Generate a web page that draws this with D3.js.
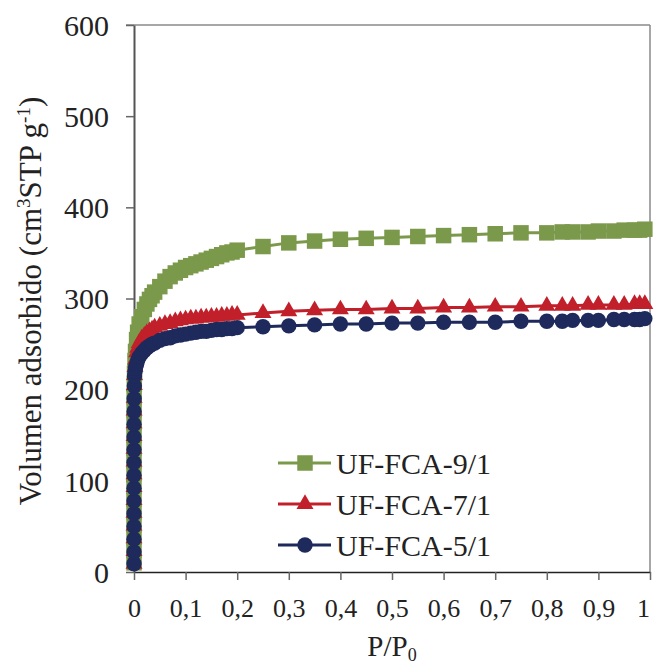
<!DOCTYPE html>
<html><head><meta charset="utf-8">
<script src="https://cdn.jsdelivr.net/npm/d3@7"></script>
<style>
html,body{margin:0;padding:0;background:#fff;}
svg{display:block;}
svg text{font-family:"Liberation Serif","Times New Roman",Tinos,serif !important;fill:#222;}
</style></head>
<body>
<script>
// Shared relative pressures (P/P0)
const pressure = [0.0000005, 0.000001, 0.000002, 0.000003, 0.000005, 0.000008, 0.00001, 0.00002,
  0.00003, 0.00005, 0.00008, 0.0001, 0.0002, 0.0003, 0.0006, 0.001,
  0.002, 0.003, 0.005, 0.007, 0.01, 0.015, 0.02, 0.025, 0.03, 0.035, 0.04, 0.05,
  0.06, 0.07, 0.08, 0.09, 0.10, 0.11, 0.12, 0.13, 0.14, 0.15,
  0.16, 0.17, 0.18, 0.19, 0.20,
  0.25, 0.30, 0.35, 0.40, 0.45, 0.50, 0.55, 0.60, 0.65, 0.70,
  0.75, 0.80, 0.83, 0.85, 0.88, 0.90, 0.93, 0.95, 0.97, 0.98, 0.99];
const seriesNames = ["UF-FCA-9/1", "UF-FCA-7/1", "UF-FCA-5/1"];
const vol91 = [10, 24, 38, 52, 66, 80, 94, 108, 122, 136, 150, 164, 178, 192, 206, 218,
  232, 242, 255, 263, 272, 280, 288, 294, 299, 303, 307, 313,
  319, 324, 328, 331, 334, 336, 338, 340, 342, 344,
  346, 348, 350, 351, 353,
  357, 361, 363, 365, 366, 367, 368, 369, 370, 371,
  372, 372, 373, 373, 373, 374, 374, 375, 375, 375, 376];
const vol71 = [9, 23, 37, 51, 65, 79, 93, 107, 121, 135, 149, 163, 177, 191, 205, 216,
  225, 233, 241, 246, 251, 256, 259, 262, 264, 266, 268, 270,
  272, 273, 275, 276, 277, 278, 278, 279, 279, 280,
  280, 281, 281, 282, 282,
  284, 286, 287, 288, 288, 289, 289, 290, 290, 291,
  291, 292, 292, 292, 293, 293, 293, 293, 294, 294, 294];
const vol51 = [9, 22, 36, 50, 64, 78, 92, 106, 120, 134, 148, 162, 176, 190, 204, 215,
  220, 224, 228, 232, 236, 240, 243, 246, 248, 250, 251, 254,
  256, 257, 259, 260, 261, 262, 263, 264, 264, 265,
  266, 266, 267, 267, 268,
  269, 270, 271, 272, 272, 273, 273, 274, 274, 274,
  275, 275, 275, 276, 276, 276, 277, 277, 277, 277, 278];
const xTicks = [0, 0.1, 0.2, 0.3, 0.4, 0.5, 0.6, 0.7, 0.8, 0.9, 1];
const yTicks = [0, 100, 200, 300, 400, 500, 600];

const W = 655, H = 668;
const svg = d3.select("body").append("svg").attr("width", W).attr("height", H);

const x = d3.scaleLinear().domain([0, 1]).range([134, 650]);
const y = d3.scaleLinear().domain([0, 600]).range([572, 25]);

// frame (top & right, gray)
svg.append("line").attr("x1", 126).attr("x2", 650).attr("y1", y(600)).attr("y2", y(600))
  .attr("stroke", "#8a8a8a").attr("stroke-width", 1.5);
svg.append("line").attr("x1", 650).attr("x2", 650).attr("y1", y(600)).attr("y2", 572)
  .attr("stroke", "#8a8a8a").attr("stroke-width", 1.5);

const fmt = d => d === 0 ? "0" : d === 1 ? "1" : String(d).replace(".", ",");

// x axis
const gx = svg.append("g").attr("transform", `translate(0,572)`)
  .call(d3.axisBottom(x).tickValues(xTicks).tickSize(8).tickSizeOuter(0).tickFormat(fmt));
gx.select(".domain").attr("stroke", "#222").attr("stroke-width", 1.5);
gx.selectAll(".tick line").attr("stroke", "#666").attr("stroke-width", 1.5);
gx.selectAll(".tick text").attr("font-size", 26).attr("dy", 0).attr("y", 45).attr("fill", "#222")
  .attr("x", d => d === 1 ? -7 : 0);

// y axis
const gy = svg.append("g").attr("transform", `translate(134,0)`)
  .call(d3.axisLeft(y).tickValues(yTicks).tickSize(8).tickSizeOuter(0));
gy.select(".domain").attr("stroke", "#555").attr("stroke-width", 2);
gy.selectAll(".tick line").attr("stroke", "#666").attr("stroke-width", 1.5);
gy.selectAll(".tick text").attr("font-size", 30).attr("x", -25).attr("dy", "0.34em").attr("fill", "#222");

// axis titles
const xt = svg.append("text").attr("x", 392).attr("y", 656).attr("text-anchor", "middle")
  .attr("font-size", 29);
xt.append("tspan").text("P/P");
xt.append("tspan").attr("font-size", 18).attr("dy", 5).text("0");

const yt = svg.append("text").attr("transform", "translate(41,301) rotate(-90)")
  .attr("text-anchor", "middle").attr("font-size", 31);
yt.append("tspan").text("Volumen adsorbido (cm");
yt.append("tspan").attr("font-size", 19).attr("dy", -11).text("3");
yt.append("tspan").attr("dy", 11).text("STP g");
yt.append("tspan").attr("font-size", 19).attr("dy", -11).text("-1");
yt.append("tspan").attr("dy", 11).text(")");

const colors = ["#7b994a", "#c1202b", "#1e295c"];
const vols = [vol91, vol71, vol51];
const shapes = [d3.symbolSquare, d3.symbolTriangle, d3.symbolCircle];
const sizes = [240, 125, 185];

const plot = svg.append("g");
const line = d3.line().x(d => x(d[0])).y(d => y(d[1]));

vols.forEach((v, i) => {
  const pts = pressure.map((p, k) => [p, v[k]]);
  const g = plot.append("g");
  g.append("path").datum(pts).attr("d", line).attr("fill", "none")
    .attr("stroke", colors[i]).attr("stroke-width", 3);
  g.selectAll("path.m").data(pts).enter().append("path").attr("class", "m")
    .attr("d", d3.symbol().type(shapes[i]).size(sizes[i]))
    .attr("transform", d => `translate(${x(d[0])},${y(d[1])})`)
    .attr("fill", colors[i]);
});

// legend
const legY = [463, 504, 545];
seriesNames.forEach((n, i) => {
  const g = svg.append("g").attr("transform", `translate(0,${legY[i]})`);
  g.append("line").attr("x1", 278).attr("x2", 331).attr("y1", 0).attr("y2", 0)
    .attr("stroke", colors[i]).attr("stroke-width", 3);
  g.append("path").attr("d", d3.symbol().type(shapes[i]).size(sizes[i]))
    .attr("transform", "translate(305,0)").attr("fill", colors[i]);
  g.append("text").attr("x", 336).attr("y", 0).attr("dy", "0.35em")
    .attr("font-size", 30).text(n);
});
</script>
</body></html>
